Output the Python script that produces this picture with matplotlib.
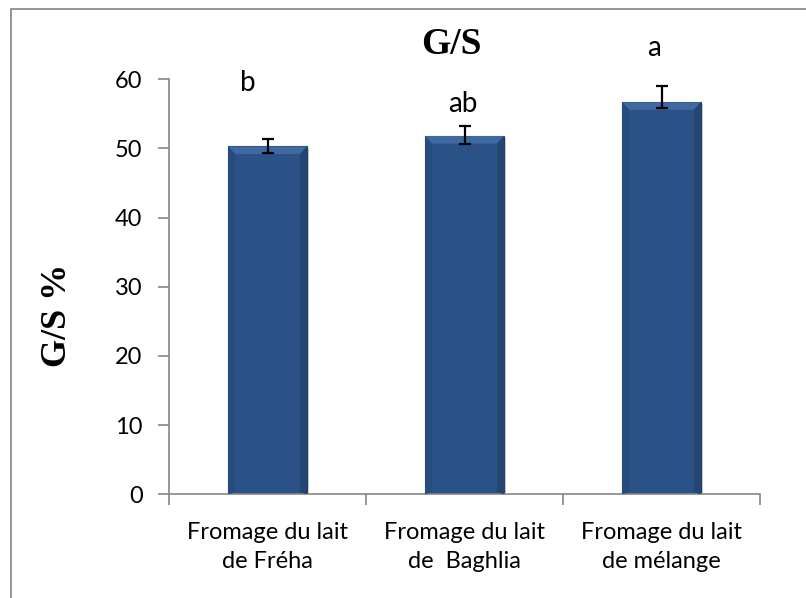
import matplotlib
matplotlib.use("Agg")
import matplotlib.pyplot as plt
from matplotlib.patches import Rectangle, Polygon

# data
categories = ["Fromage du lait\nde Fréha", "Fromage du lait\nde  Baghlia", "Fromage du lait\nde mélange"]
gs_values = [50.3, 51.8, 56.7]
err_low = [1.0, 1.1, 0.9]
err_high = [1.0, 1.4, 2.4]
letters = ["b", "ab", "a"]
yticks = [0, 10, 20, 30, 40, 50, 60]

# where the letters sit (x offset from the bar, y in data units)
letter_pos = [(-0.10, 59.4), (-0.01, 56.5), (-0.04, 64.5)]

sans = ["Lato", "DejaVu Sans"]
serif = ["Liberation Serif", "DejaVu Serif"]
axis_grey = "#868686"

fig = plt.figure(figsize=(8.06, 5.98), dpi=100)
ax = fig.add_axes([169 / 806, 1 - 494.3 / 598, (760 - 169) / 806, (494.3 - 79.3) / 598])

# outer chart frame (runs off the right and bottom edges)
fig.patches.append(Rectangle((11 / 806, -0.05), 1.2, 1 - 9 / 598 + 0.05,
                             transform=fig.transFigure, fill=False,
                             edgecolor="#8c8c8c", linewidth=1.3))

x = list(range(len(categories)))
width = 0.4
bars = ax.bar(x, gs_values, width=width, color="#2a5287", edgecolor="#1f3e68",
              linewidth=0.8, zorder=2)

# soft shadow + bevel to mimic the office look
for b in bars:
    x0, w, h = b.get_x(), b.get_width(), b.get_height()
    ax.add_patch(Rectangle((x0 + w, 0), 0.012, h - 0.3, color="#cfcfcf", zorder=1, lw=0))
    ax.add_patch(Polygon([(x0, h), (x0 + w, h), (x0 + w - 0.035, h - 1.1), (x0 + 0.035, h - 1.1)],
                         closed=True, facecolor="#3f69a0", edgecolor="none", zorder=3))
    ax.add_patch(Polygon([(x0, h), (x0 + 0.035, h - 1.1), (x0 + 0.035, 0.3), (x0, 0)],
                         closed=True, facecolor="#264c7e", edgecolor="none", zorder=3))
    ax.add_patch(Polygon([(x0 + w, h), (x0 + w - 0.035, h - 1.1), (x0 + w - 0.035, 0.3), (x0 + w, 0)],
                         closed=True, facecolor="#234672", edgecolor="none", zorder=3))

ax.errorbar(x, gs_values, yerr=[err_low, err_high], fmt="none", ecolor="black",
            elinewidth=1.6, capsize=4, capthick=1.6, zorder=4)

for i, (lab, (dx, yy)) in enumerate(zip(letters, letter_pos)):
    ax.text(i + dx, yy, lab, ha="center", va="center", fontsize=20, family=sans)

ax.set_xlim(-0.5, len(categories) - 0.5)
ax.set_ylim(0, 60)
ax.set_yticks(yticks)
ax.set_yticklabels([str(t) for t in yticks], family=sans, fontsize=17)

ax.set_xticks([i - 0.5 for i in range(len(categories) + 1)])
ax.set_xticklabels([])
ax.set_xticks(x, minor=True)
ax.set_xticklabels(categories, minor=True, family=sans, fontsize=17, linespacing=1.45)
ax.tick_params(axis="x", which="minor", length=0, pad=20)
ax.tick_params(axis="x", which="major", length=8, color=axis_grey, width=1.2)
ax.tick_params(axis="y", length=8, color=axis_grey, width=1.2, pad=11)

for s in ["top", "right"]:
    ax.spines[s].set_visible(False)
for s in ["left", "bottom"]:
    ax.spines[s].set_color(axis_grey)
    ax.spines[s].set_linewidth(1.2)

fig.text(451 / 806, 1 - 45 / 598, "G/S", ha="center", va="center",
         fontsize=27, fontweight="bold", family=serif)
fig.text(58 / 806, 1 - 315 / 598, "G/S %", ha="center", va="center", rotation=90,
         fontsize=26, fontweight="bold", family=serif)

fig.savefig("out.png", dpi=100)
